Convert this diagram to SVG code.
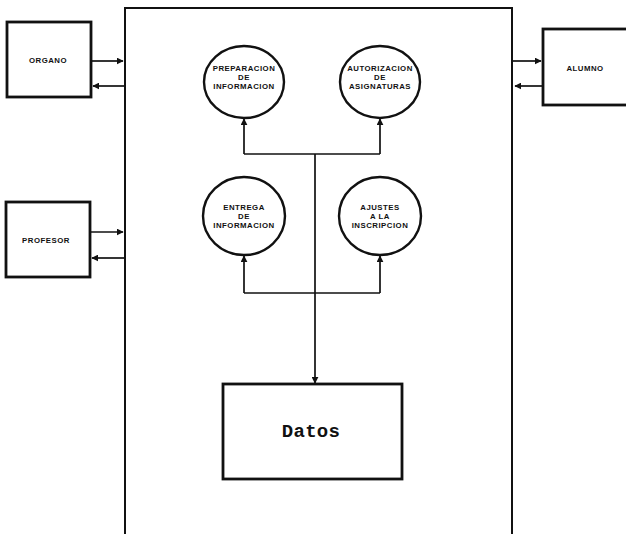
<svg xmlns="http://www.w3.org/2000/svg" width="626" height="534" viewBox="0 0 626 534">
<defs>
<marker id="ah" viewBox="0 0 10 10" refX="9" refY="5" markerWidth="7" markerHeight="7" markerUnits="userSpaceOnUse" orient="auto">
<path d="M0,0 L10,5 L0,10 z" fill="#111"/>
</marker>
</defs>
<style>
.box{fill:#fff;stroke:#111;stroke-width:2.8}
.frame{fill:none;stroke:#111;stroke-width:2}
.proc{fill:#fff;stroke:#111;stroke-width:2.4}
.conn{fill:none;stroke:#111;stroke-width:1.7}
.arr{fill:none;stroke:#111;stroke-width:1.7;marker-end:url(#ah)}
.lbl{font-family:"Liberation Sans",Arial,sans-serif;font-weight:bold;font-size:7.8px;letter-spacing:0.5px;fill:#111;text-anchor:middle}
.big{font-family:"Liberation Mono","Courier New",monospace;font-weight:bold;font-size:19px;fill:#111;text-anchor:middle;letter-spacing:0.3px}
</style>
<rect width="626" height="534" fill="#fff"/>
<g id="sistema">
<path class="frame" d="M125,540 V8 H512 V540"/>
</g>
<g id="organo">
<rect class="box" x="7" y="22" width="84" height="75"/>
<text class="lbl" x="48" y="63">ORGANO</text>
</g>
<g id="profesor">
<rect class="box" x="6" y="202" width="84" height="75"/>
<text class="lbl" x="46" y="243">PROFESOR</text>
</g>
<g id="alumno">
<rect class="box" x="543" y="29" width="90" height="76"/>
<text class="lbl" x="585" y="71">ALUMNO</text>
</g>
<g id="preparacion">
<ellipse class="proc" cx="244" cy="82" rx="40" ry="36"/>
<text class="lbl" x="244" y="71">PREPARACION</text>
<text class="lbl" x="244" y="80">DE</text>
<text class="lbl" x="244" y="89">INFORMACION</text>
</g>
<g id="autorizacion">
<ellipse class="proc" cx="380" cy="82" rx="40" ry="36"/>
<text class="lbl" x="380" y="71">AUTORIZACION</text>
<text class="lbl" x="380" y="80">DE</text>
<text class="lbl" x="380" y="89">ASIGNATURAS</text>
</g>
<g id="entrega">
<ellipse class="proc" cx="244" cy="216" rx="41" ry="39"/>
<text class="lbl" x="244" y="210">ENTREGA</text>
<text class="lbl" x="244" y="219">DE</text>
<text class="lbl" x="244" y="228">INFORMACION</text>
</g>
<g id="ajustes">
<ellipse class="proc" cx="380" cy="216" rx="41" ry="39"/>
<text class="lbl" x="380" y="210">AJUSTES</text>
<text class="lbl" x="380" y="219">A LA</text>
<text class="lbl" x="380" y="228">INSCRIPCION</text>
</g>
<g id="datos">
<rect class="box" x="223" y="384" width="179" height="95"/>
<text class="big" x="311" y="437">Datos</text>
</g>
<g id="connectors">
<line class="arr" x1="91" y1="61" x2="123" y2="61"/>
<line class="arr" x1="124" y1="86" x2="93" y2="86"/>
<line class="arr" x1="90" y1="232" x2="123" y2="232"/>
<line class="arr" x1="124" y1="258" x2="92" y2="258"/>
<line class="arr" x1="513" y1="61" x2="541" y2="61"/>
<line class="arr" x1="542" y1="86" x2="515" y2="86"/>
<path class="conn" d="M244,154 H380"/>
<line class="arr" x1="244" y1="154" x2="244" y2="119"/>
<line class="arr" x1="380" y1="154" x2="380" y2="119"/>
<path class="conn" d="M244,293 H380"/>
<line class="arr" x1="244" y1="293" x2="244" y2="256"/>
<line class="arr" x1="380" y1="293" x2="380" y2="256"/>
<line class="arr" x1="315" y1="154" x2="315" y2="383"/>
</g>
</svg>
